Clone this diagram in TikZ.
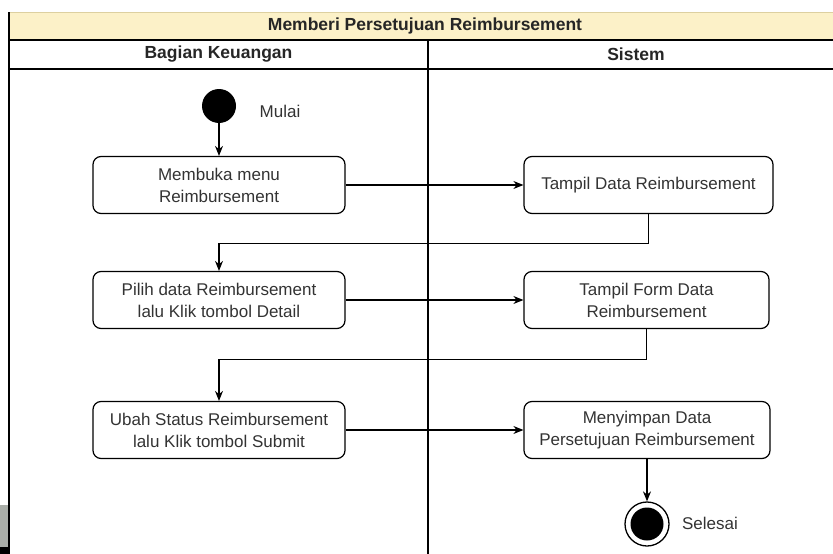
\documentclass[tikz,border=0pt]{standalone}
\usepackage{fontspec}
\setmainfont{Liberation Sans}
\usetikzlibrary{shapes.geometric, arrows.meta}
\definecolor{laneyellow}{HTML}{FCF1C8}
\definecolor{laneedge}{HTML}{DDD0A0}
\definecolor{textgrey}{HTML}{333333}
\tikzstyle{activity} = [rectangle, rounded corners=8pt, minimum height=57pt, text centered, align=center, draw=black, line width=1.2pt, text=textgrey, font=\fontsize{17}{22}\selectfont]
\tikzstyle{initial} = [circle, fill=black, minimum size=34pt, inner sep=0pt]
\tikzstyle{final} = [circle, draw=black, line width=1.3pt, fill=white, minimum size=44pt, inner sep=0pt, path picture={\fill[black] (path picture bounding box.center) circle (16.5pt);}]
\tikzstyle{note} = [text=textgrey, font=\fontsize{17}{21}\selectfont]
\tikzstyle{lanehead} = [text=black!85, font=\bfseries\fontsize{17.5}{20}\selectfont]
\tikzstyle{arrow} = [line width=1.2pt, -{Stealth[length=10pt,width=8pt]}]

\begin{document}
\begin{tikzpicture}[x=1pt, y=-1pt]
        \useasboundingbox (0,0) rectangle (833,554);
        % swimlanes
        \fill[laneyellow] (9,12) rectangle (843,40);
        \draw[laneedge, line width=1pt] (9,12) -- (843,12);
        \draw[line width=1.3pt] (9,12) -- (9,560);
        \draw[line width=1.3pt] (9,40) -- (843,40);
        \draw[line width=1.3pt] (9,69) -- (843,69);
        \draw[line width=1.3pt] (428,40) -- (428,560);
        \fill[fill={rgb,255:red,170;green,174;blue,168}] (0,505) rectangle (8,547);
        \fill[black] (0,547) rectangle (8,554);
        \node (title) [lanehead] at (425,26) {Memberi Persetujuan Reimbursement};
        \node (lane1) [lanehead] at (218.5,54.5) {Bagian Keuangan};
        \node (lane2) [lanehead] at (636,54.5) {Sistem};
        % activities
        \node (start) [initial] at (219,106) {};
        \node (mulai) [note] at (280,111) {Mulai};
        \node (buka) [activity, minimum width=252pt] at (219,185) {Membuka menu\\Reimbursement};
        \node (tampil) [activity, minimum width=249pt] at (648.5,185) {Tampil Data Reimbursement};
        \draw [arrow] (start) -- (buka);
        \draw [arrow] (buka) -- (tampil);
        \node (pilih) [activity, minimum width=252pt] at (219,300) {Pilih data Reimbursement\\lalu Klik tombol Detail};
        \node (form) [activity, minimum width=245pt] at (646.5,300) {Tampil Form Data\\Reimbursement};
        \draw [arrow] (tampil.south) -- ++(0,29) -| (pilih.north);
        \draw [arrow] (pilih) -- (form);
        \node (ubah) [activity, minimum width=252pt] at (219,430) {Ubah Status Reimbursement\\lalu Klik tombol Submit};
        \node (simpan) [activity, minimum width=246pt] at (647,430) {Menyimpan Data\\Persetujuan Reimbursement};
        \draw [arrow] (form.south) -- ++(0,30) -| (ubah.north);
        \draw [arrow] (ubah) -- (simpan);
        \node (end) [final] at (647,524) {};
        \node (selesai) [note] at (710,523) {Selesai};
        \draw [arrow] (simpan) -- (end);
    \end{tikzpicture}
\end{document}
